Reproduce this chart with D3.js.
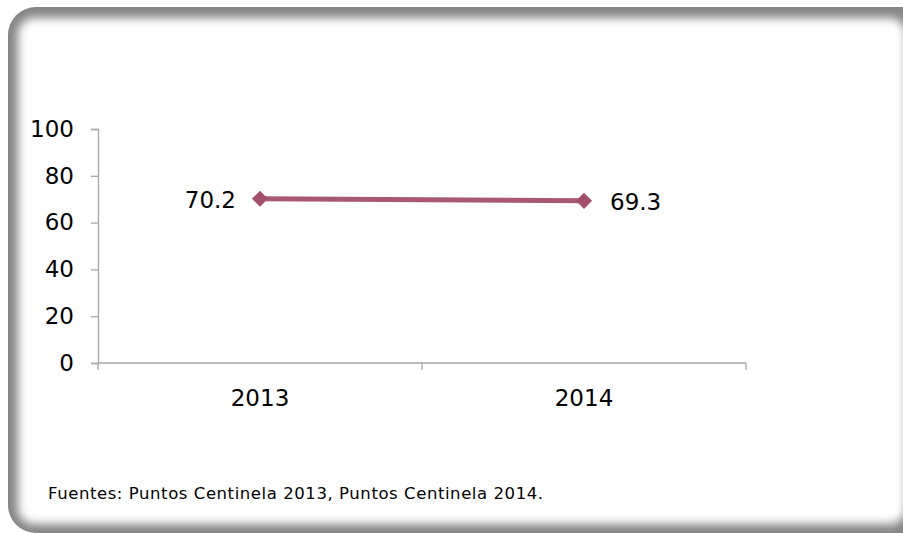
<!DOCTYPE html>
<html><head><meta charset="utf-8">
<script src="https://cdn.jsdelivr.net/npm/d3@7"></script>
<style>body{margin:0;background:#fff;}svg{display:block;}</style>
</head><body>
<script>
const categories = ["2013", "2014"];
const values = [70.2, 69.3];
const yTicks = [0, 20, 40, 60, 80, 100];
const footer = "Fuentes: Puntos Centinela 2013, Puntos Centinela 2014.";

const W = 903, H = 533;
const font = "'DejaVu Sans', sans-serif";
const svg = d3.select("body").append("svg").attr("width", W).attr("height", H);
const defs = svg.append("defs");
defs.append("filter").attr("id","blur").attr("x","-10%").attr("y","-10%").attr("width","120%").attr("height","120%")
  .append("feGaussianBlur").attr("stdDeviation", 5);
defs.append("clipPath").attr("id","frameclip").append("rect")
  .attr("x",8).attr("y",7).attr("width",940).attr("height",526).attr("rx",28);

const frame = svg.append("g").attr("clip-path","url(#frameclip)");
frame.append("rect").attr("x",8).attr("y",7).attr("width",940).attr("height",526).attr("fill","#858585");
frame.append("rect").attr("x",18).attr("y",18).attr("width",888).attr("height",506).attr("rx",16)
  .attr("fill","#fff").attr("filter","url(#blur)");

const x = d3.scaleBand().domain(categories).range([98, 746]);
const y = d3.scaleLinear().domain([0, 100]).range([363, 129]);

const yAxis = svg.append("g").attr("transform","translate(98,0)")
  .call(d3.axisLeft(y).tickValues(yTicks).tickSize(7).tickPadding(17));
yAxis.select(".domain").attr("stroke","#a6a6a6").attr("stroke-width",1.3);
yAxis.selectAll(".tick line").attr("stroke","#a6a6a6").attr("stroke-width",1.3);
yAxis.selectAll(".tick text").attr("font-family",font).attr("font-size",23).attr("fill","#000");

const xAxis = svg.append("g").attr("transform","translate(0,363)")
  .call(d3.axisBottom(x).tickSize(0).tickPadding(27));
xAxis.select(".domain").remove();
xAxis.selectAll(".tick text").attr("font-family",font).attr("font-size",23).attr("fill","#000");
svg.append("line").attr("x1",98).attr("x2",746).attr("y1",363).attr("y2",363)
  .attr("stroke","#a6a6a6").attr("stroke-width",1.3);
const bounds = [98, 98 + x.step(), 746];
svg.selectAll("line.xt").data(bounds).join("line").attr("class","xt")
  .attr("x1",d=>d).attr("x2",d=>d).attr("y1",363).attr("y2",370)
  .attr("stroke","#a6a6a6").attr("stroke-width",1.3);

const cx = d => x(d) + x.bandwidth()/2;
const color = "#a85872";
svg.append("path").datum(values.map((v,i)=>[cx(categories[i]), y(v)]))
  .attr("d", d3.line()).attr("fill","none").attr("stroke",color).attr("stroke-width",5);
svg.selectAll("path.mk").data(values).join("path").attr("class","mk")
  .attr("d", d3.symbol(d3.symbolSquare, 130))
  .attr("transform",(d,i)=>`translate(${cx(categories[i])},${y(d)}) rotate(45)`)
  .attr("fill", "#a24f6b");

svg.selectAll("text.lbl").data(values).join("text").attr("class","lbl")
  .attr("x",(d,i)=> i===0 ? cx(categories[i]) - 24 : cx(categories[i]) + 26)
  .attr("y",(d)=> y(d) + 9)
  .attr("text-anchor",(d,i)=> i===0 ? "end" : "start")
  .attr("font-family",font).attr("font-size",23).attr("fill","#000")
  .text(d=>d.toFixed(1));

svg.append("text").attr("x",48).attr("y",499).attr("font-family",font).attr("font-size",16.5)
  .attr("textLength",495).attr("lengthAdjust","spacing")
  .attr("fill","#000").text(footer);
</script>
</body></html>
